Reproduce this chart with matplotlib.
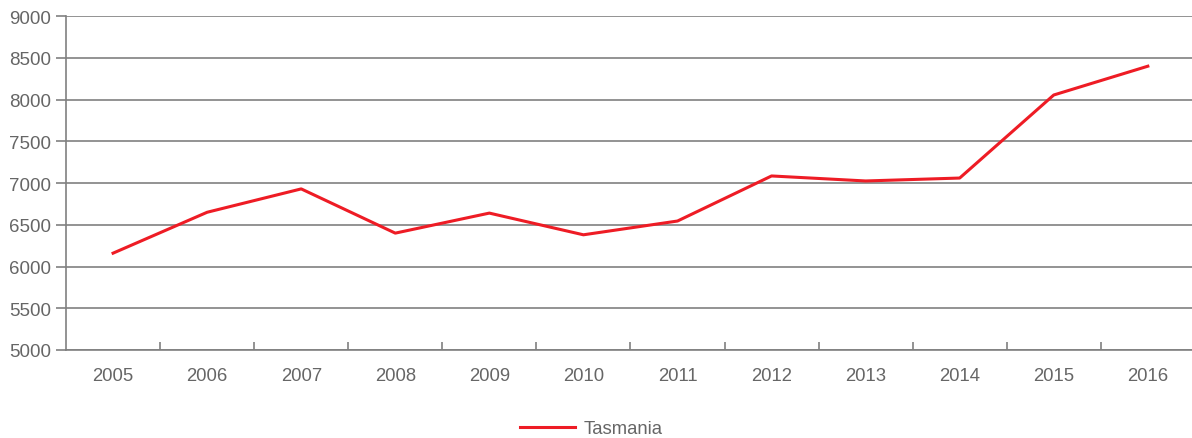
import matplotlib.pyplot as plt
import numpy as np

years = ['2005', '2006', '2007', '2008', '2009', '2010',
         '2011', '2012', '2013', '2014', '2015', '2016']
tasmania = [6160, 6650, 6930, 6400, 6640, 6380,
            6545, 7085, 7025, 7060, 8055, 8400]

plt.rcParams['font.family'] = ['Liberation Sans', 'DejaVu Sans']

fig = plt.figure(figsize=(11.92, 4.39), dpi=100)
ax = fig.add_axes([0.0554, 0.2005, 0.947, 0.7605])

x = np.arange(len(years))
ax.plot(x, tasmania, color='#ee1c25', lw=2.2, label='Tasmania', zorder=3)

ax.set_xlim(-0.5, len(years) - 0.5)
ax.set_ylim(5000, 9000)
ax.set_yticks(np.arange(5000, 9001, 500))
ax.yaxis.grid(True, color='#808080', lw=1.2)
ax.set_axisbelow(True)

# category labels centred, tick marks between categories
ax.set_xticks(x)
ax.set_xticklabels(years)
ax.set_xticks(np.arange(0.5, len(years) - 0.5, 1), minor=True)
ax.tick_params(axis='x', which='major', length=0, pad=12, labelsize=13.3, labelcolor='#666666')
ax.tick_params(axis='x', which='minor', length=6, width=1.2, color='#808080', direction='in')
ax.tick_params(axis='y', length=7, width=1.2, color='#808080', pad=4, labelsize=13.5, labelcolor='#666666')

for s in ['top', 'right']:
    ax.spines[s].set_visible(False)
ax.spines['left'].set_color('#808080')
ax.spines['left'].set_linewidth(1.2)
ax.spines['bottom'].set_color('#808080')
ax.spines['bottom'].set_linewidth(1.2)

leg = ax.legend(loc='upper center', bbox_to_anchor=(0.465, -0.16), frameon=False,
                fontsize=13.3, handlelength=3.0, handletextpad=0.45)
for t in leg.get_texts():
    t.set_color('#666666')

fig.savefig('out.png', dpi=100)
